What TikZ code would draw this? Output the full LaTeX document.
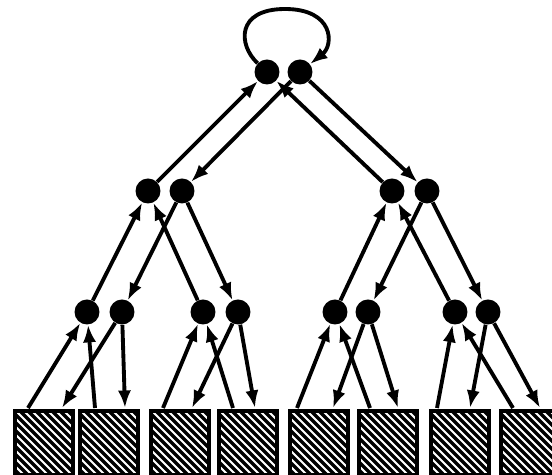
\documentclass[tikz,border=0pt]{standalone}
\usepackage{tikz}
\usetikzlibrary{arrows.meta}

\tikzset{
  proc/.style={circle,fill,inner sep=0pt,minimum size=0.5cm},
  mem/.style={draw,line width=2.2pt,minimum width=1.16cm,minimum height=1.28cm,inner sep=0pt,
    path picture={
      \foreach \i in {-80,-72,...,80}
        \draw[line width=1.9pt,shift={(path picture bounding box.center)}] (\i-40,-40) -- (\i+40,40);
    }},
  link/.style={line width=2.2pt,-{Latex[length=10pt,width=7.5pt]}}
}

\begin{document}
\begin{tikzpicture}[x=0.02cm,y=-0.02cm]
        \clip (0,0) rectangle (552,475);

        \node[proc] (t1) at (267,72) {};
        \node[proc] (t2) at (300,72) {};
        \foreach \n/\x in {1/148,2/182,3/392,4/427} {
            \node[proc] (a\n) at (\x,191) {};
        }
        \foreach \n/\x in {1/87,2/122,3/203,4/238,5/335,6/368,7/455,8/488} {
            \node[proc] (b\n) at (\x,312) {};
        }
        \foreach \n/\x/\u/\d in {1/12/16/50,2/77/18/48,3/148/15/44,4/216/17/39,
                                 5/287/10/46,6/356/14/42,7/428/9/42,8/498/15/42} {
            \node[mem,anchor=north west] (m\n) at (\x+1,409) {};
            \coordinate (u\n) at (\x+\u,408);
            \coordinate (d\n) at (\x+\d,408);
        }

        \draw[link] (t1) .. controls (238,45) and (236,9) .. (285,9)
                         .. controls (334,9) and (334,45) .. (t2);
        \draw[link] (a1) -- (t1);
        \draw[link] (a3) -- (t1);
        \draw[link] (t2) -- (a2);
        \draw[link] (t2) -- (a4);

        \foreach \up/\dn/\i/\j/\k/\l in {a1/a2/b1/b3/b2/b4,a3/a4/b5/b7/b6/b8} {
            \draw[link] (\i) -- (\up);
            \draw[link] (\j) -- (\up);
            \draw[link] (\dn) -- (\k);
            \draw[link] (\dn) -- (\l);
        }

        \foreach \up/\dn/\i/\j in {b1/b2/1/2,b3/b4/3/4,b5/b6/5/6,b7/b8/7/8} {
            \draw[link] (u\i) -- (\up);
            \draw[link] (u\j) -- (\up);
            \draw[link] (\dn) -- (d\i);
            \draw[link] (\dn) -- (d\j);
        }
\end{tikzpicture}
\end{document}
